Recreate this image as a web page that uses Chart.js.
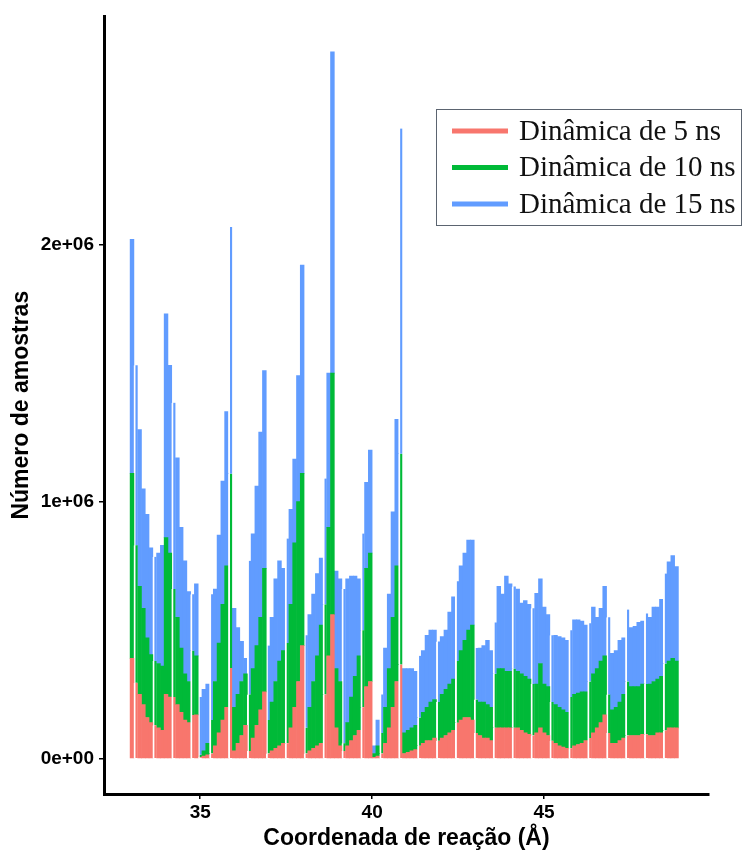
<!DOCTYPE html>
<html>
<head>
<meta charset="utf-8">
<script src="https://cdn.jsdelivr.net/npm/chart.js@4.4.0/dist/chart.umd.min.js"></script>
<style>
  html, body { margin: 0; padding: 0; background: #fff; }
  #wrap { width: 745px; height: 855px; }
</style>
</head>
<body>
<div id="wrap"><canvas id="histChart" width="745" height="855"></canvas></div>
<script>
// Histogram bins (reaction coordinate, Å)
const binStart = 32.96;
const binWidth = 0.11;

// Left edges of the sampling windows (white separators)
const windowEdges = [33.07, 33.62, 34.17, 34.72, 34.94, 35.27, 35.82, 36.37, 36.92, 37.47,
    38.02, 38.57, 39.12, 39.67, 40.22, 40.77, 41.32, 41.87, 42.42, 42.97,
    43.52, 44.07, 44.62, 45.17, 45.72, 46.27, 46.82, 47.37, 47.92, 48.47];

// Sample counts per bin for each run
const dyn5 = [
    390e3,
    295e3, 250e3, 210e3, 160e3, 140e3,
    130e3, 120e3, 110e3, 250e3, 240e3,
    240e3, 210e3, 180e3, 150e3, 140e3,
    170e3, 170e3, 5e3, 10e3, 15e3,
    20e3, 50e3, 100e3, 150e3, 200e3,
    353e3, 30e3, 60e3, 90e3, 130e3,
    30e3, 80e3, 130e3, 190e3, 260e3,
    20e3, 30e3, 40e3, 50e3, 60e3,
    60e3, 120e3, 200e3, 300e3, 440e3,
    20e3, 30e3, 40e3, 50e3, 60e3,
    250e3, 400e3, 560e3, 120e3, 50e3,
    30e3, 50e3, 70e3, 90e3, 110e3,
    200e3, 280e3, 300e3, 5e3, 10e3,
    20e3, 60e3, 120e3, 200e3, 300e3,
    366e3, 20e3, 25e3, 30e3, 35e3,
    50e3, 60e3, 70e3, 70e3, 80e3,
    70e3, 80e3, 90e3, 100e3, 110e3,
    140e3, 150e3, 160e3, 160e3, 150e3,
    100e3, 90e3, 80e3, 80e3, 70e3,
    120e3, 120e3, 120e3, 120e3, 120e3,
    120e3, 120e3, 110e3, 100e3, 95e3,
    90e3, 100e3, 120e3, 100e3, 90e3,
    70e3, 60e3, 50e3, 45e3, 40e3,
    40e3, 50e3, 55e3, 60e3, 70e3,
    80e3, 100e3, 120e3, 140e3, 170e3,
    100e3, 60e3, 60e3, 70e3, 80e3,
    90e3, 90e3, 90e3, 90e3, 95e3,
    95e3, 90e3, 90e3, 100e3, 100e3,
    110e3, 120e3, 120e3, 120e3
];
const dyn10 = [
    720e3,
    535e3, 420e3, 375e3, 310e3, 265e3,
    250e3, 250e3, 250e3, 610e3, 560e3,
    420e3, 340e3, 250e3, 180e3, 160e3,
    250e3, 230e3, 10e3, 20e3, 45e3,
    130e3, 250e3, 350e3, 450e3, 550e3,
    755e3, 170e3, 190e3, 210e3, 200e3,
    220e3, 270e3, 310e3, 360e3, 480e3,
    130e3, 190e3, 260e3, 330e3, 360e3,
    390e3, 480e3, 640e3, 700e3, 670e3,
    100e3, 170e3, 260e3, 350e3, 460e3,
    350e3, 500e3, 940e3, 230e3, 250e3,
    30e3, 90e3, 170e3, 230e3, 290e3,
    300e3, 460e3, 500e3, 15e3, 40e3,
    80e3, 140e3, 230e3, 350e3, 450e3,
    820e3, 80e3, 85e3, 90e3, 95e3,
    110e3, 120e3, 130e3, 150e3, 150e3,
    150e3, 170e3, 180e3, 190e3, 200e3,
    240e3, 270e3, 300e3, 340e3, 370e3,
    130e3, 130e3, 140e3, 130e3, 130e3,
    210e3, 230e3, 230e3, 220e3, 220e3,
    230e3, 220e3, 220e3, 220e3, 215e3,
    200e3, 190e3, 250e3, 190e3, 190e3,
    150e3, 150e3, 150e3, 145e3, 140e3,
    200e3, 200e3, 200e3, 200e3, 190e3,
    220e3, 230e3, 230e3, 240e3, 230e3,
    150e3, 130e3, 140e3, 150e3, 170e3,
    210e3, 190e3, 190e3, 190e3, 195e3,
    195e3, 200e3, 210e3, 210e3, 220e3,
    260e3, 260e3, 270e3, 260e3
];
const dyn15 = [
    910e3,
    700e3, 610e3, 465e3, 480e3, 415e3,
    405e3, 430e3, 470e3, 870e3, 730e3,
    725e3, 620e3, 470e3, 440e3, 350e3,
    220e3, 280e3, 225e3, 240e3, 230e3,
    490e3, 360e3, 420e3, 480e3, 600e3,
    960e3, 385e3, 260e3, 156e3, 60e3,
    520e3, 525e3, 620e3, 720e3, 770e3,
    290e3, 330e3, 400e3, 390e3, 320e3,
    406e3, 370e3, 325e3, 490e3, 810e3,
    360e3, 360e3, 340e3, 320e3, 260e3,
    490e3, 600e3, 1250e3, 380e3, 400e3,
    600e3, 560e3, 470e3, 390e3, 300e3,
    376e3, 335e3, 400e3, 30e3, 100e3,
    150e3, 230e3, 290e3, 410e3, 570e3,
    1265e3, 250e3, 240e3, 230e3, 210e3,
    240e3, 240e3, 280e3, 280e3, 270e3,
    236e3, 225e3, 230e3, 280e3, 320e3,
    310e3, 330e3, 340e3, 350e3, 330e3,
    200e3, 210e3, 220e3, 250e3, 220e3,
    200e3, 320e3, 290e3, 370e3, 340e3,
    320e3, 320e3, 275e3, 295e3, 290e3,
    295e3, 353e3, 330e3, 300e3, 280e3,
    260e3, 270e3, 275e3, 280e3, 280e3,
    260e3, 290e3, 285e3, 275e3, 260e3,
    227e3, 260e3, 200e3, 205e3, 270e3,
    300e3, 220e3, 220e3, 240e3, 220e3,
    280e3, 230e3, 235e3, 250e3, 245e3,
    275e3, 260e3, 290e3, 280e3, 300e3,
    350e3, 386e3, 400e3, 367e3
];

const seriesLabels = ['Dinâmica de 5 ns', 'Dinâmica de 10 ns', 'Dinâmica de 15 ns'];
const seriesColors = ['#F8766D', '#00BA38', '#619CFF'];

const xTicks = [35, 40, 45];
const yTicks = [0, 1e6, 2e6];
const yTickLabels = ['0e+00', '1e+06', '2e+06'];

// bin centres and which bins open a new window
const binCenters = dyn5.map((_, i) => +(binStart + binWidth * (i + 0.5)).toFixed(3));
const opensWindow = dyn5.map((_, i) => {
    const left = binStart + binWidth * i;
    return windowEdges.some(e => Math.abs(e - left) < 0.01);
});

function makeDataset(label, values, color) {
    return {
        label: label,
        data: values.map((v, i) => ({ x: binCenters[i], y: v })),
        backgroundColor: color,
        borderColor: '#ffffff',
        borderWidth: ctx => opensWindow[ctx.dataIndex] ? { left: 2, right: 0, top: 0, bottom: 0 } : 0,
        barPercentage: 1,
        categoryPercentage: 1
    };
}

// Legend drawn as a framed box inside the plot
const legendBox = {
    id: 'legendBox',
    afterDraw(chart) {
        const ctx = chart.ctx;
        ctx.save();
        ctx.fillStyle = '#ffffff';
        ctx.fillRect(436, 109, 306, 116);
        ctx.strokeStyle = '#5b6470';
        ctx.lineWidth = 1;
        ctx.strokeRect(436.5, 109.5, 305, 116);
        chart.data.datasets.forEach((ds, i) => {
            const y = 131 + i * 36.5;
            ctx.strokeStyle = ds.backgroundColor;
            ctx.lineWidth = 5;
            ctx.beginPath();
            ctx.moveTo(452, y);
            ctx.lineTo(508, y);
            ctx.stroke();
            ctx.fillStyle = '#111111';
            ctx.font = '29px "Liberation Serif", "Times New Roman", serif';
            ctx.textBaseline = 'middle';
            ctx.fillText(ds.label, 519, y + 1);
        });
        ctx.restore();
    }
};

const axisFont = { family: '"Liberation Sans", Arial, sans-serif', weight: 'bold', size: 19 };
const titleFont = { family: '"Liberation Sans", Arial, sans-serif', weight: 'bold', size: 23 };

const ctx = document.getElementById('histChart').getContext('2d');
new Chart(ctx, {
    type: 'bar',
    data: {
        datasets: [
            makeDataset(seriesLabels[0], dyn5, seriesColors[0]),
            makeDataset(seriesLabels[1], dyn10, seriesColors[1]),
            makeDataset(seriesLabels[2], dyn15, seriesColors[2])
        ]
    },
    options: {
        responsive: false,
        animation: false,
        devicePixelRatio: 1,
        layout: { padding: { top: 12, right: 36, left: 0, bottom: 0 } },
        plugins: {
            legend: { display: false },
            tooltip: { enabled: false }
        },
        scales: {
            x: {
                type: 'linear',
                min: 32.2,
                max: 49.8,
                offset: false,
                stacked: true,
                afterBuildTicks: scale => { scale.ticks = xTicks.map(v => ({ value: v })); },
                afterFit: scale => { scale.height = 61; },
                border: { display: true, color: '#000', width: 3 },
                grid: { display: true, drawOnChartArea: false, drawTicks: true, tickLength: 5, color: '#000', lineWidth: 1.5, offset: false },
                ticks: { font: axisFont, color: '#000', padding: 2, maxRotation: 0, callback: v => String(v) },
                title: { display: true, text: 'Coordenada de reação (Å)', font: titleFont, color: '#000', padding: { top: 0, bottom: 3 } }
            },
            y: {
                stacked: true,
                min: -137500,
                max: 2887500,
                afterBuildTicks: scale => { scale.ticks = yTicks.map(v => ({ value: v })); },
                afterFit: scale => { scale.width = 104; },
                border: { display: true, color: '#000', width: 3 },
                grid: { display: true, drawOnChartArea: false, drawTicks: true, tickLength: 5, color: '#000', lineWidth: 1.5 },
                ticks: { font: axisFont, color: '#000', padding: 5, callback: (v, i) => yTickLabels[i] },
                title: { display: true, text: 'Número de amostras', font: titleFont, color: '#000', padding: { top: 8, bottom: 0 } }
            }
        }
    },
    plugins: [legendBox]
});
</script>
</body>
</html>
